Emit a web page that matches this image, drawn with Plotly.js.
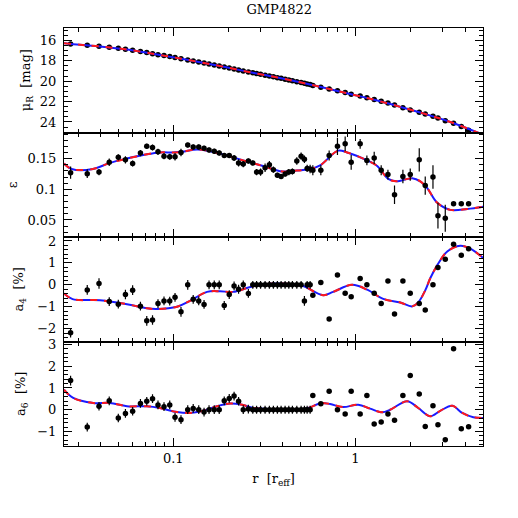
<!DOCTYPE html>
<html>
<head>
<meta charset="utf-8">
<script src="https://cdn.plot.ly/plotly-3.0.1.min.js"></script>
<style>html,body{margin:0;padding:0;background:#fff;}#chart{width:518px;height:518px;}</style>
</head>
<body>
<div id="chart"></div>
<script>
// ---- data points (radius in r_eff) ----
const r = [0.0273,0.0337,0.0391,0.0445,0.0499,0.0546,0.0598,0.0660,0.0715,0.0769,
  0.0824,0.0889,0.0956,0.1022,0.1102,0.1200,0.1286,0.1379,0.1475,0.1571,
  0.1678,0.1787,0.1904,0.2028,0.2156,0.2282,0.2421,0.2583,0.2731,0.2865,
  0.3013,0.3190,0.3368,0.3543,0.3727,0.3906,0.4109,0.4305,0.4506,0.4764,
  0.5030,0.5245,0.5429,0.5637,0.5833,0.6454,0.7170,0.7963,0.8778,0.9471,
  1.061,1.155,1.267,1.384,1.507,1.638,1.821,1.998,2.239,2.415,
  2.663,2.836,3.111,3.455,3.809,4.178];
const mu = [16.36,16.49,16.59,16.69,16.79,16.88,16.98,17.11,17.21,17.31,
  17.41,17.50,17.60,17.70,17.80,17.93,18.03,18.13,18.22,18.32,
  18.42,18.52,18.61,18.71,18.81,18.91,19.00,19.10,19.17,19.25,
  19.33,19.42,19.50,19.58,19.66,19.73,19.82,19.89,19.96,20.05,
  20.14,20.21,20.27,20.34,20.42,20.60,20.77,20.94,21.12,21.28,
  21.46,21.63,21.80,21.97,22.15,22.35,22.60,22.82,23.05,23.22,
  23.45,23.62,23.87,24.13,24.45,24.80];
const eps = [0.127,0.1255,0.128,0.144,0.152,0.148,0.142,0.159,0.170,0.168,
  0.161,0.154,0.153,0.153,0.160,0.172,0.169,0.169,0.167,0.164,
  0.162,0.159,0.155,0.155,0.151,0.143,0.141,0.146,0.143,0.128,
  0.128,0.135,0.140,0.132,0.123,0.121,0.125,0.128,0.129,0.146,
  0.154,0.149,0.134,0.133,0.131,0.131,0.155,0.170,0.174,0.144,
  0.174,0.147,0.151,0.131,0.124,0.091,0.121,0.124,0.148,0.106,
  0.120,0.057,0.053,0.0765,0.0765,0.0765];
const epsErr = [0.010,0.007,0.005,0.006,0.005,0.006,0.005,0.005,0.004,0.005,
  0.005,0.005,0.005,0.006,0.006,0.004,0.004,0.004,0.004,0.004,
  0.004,0.004,0.004,0.004,0.005,0.006,0.005,0.004,0.004,0.005,
  0.006,0.007,0.006,0.005,0.004,0.004,0.004,0.005,0.005,0.006,
  0.006,0.006,0.006,0.007,0.008,0.008,0.008,0.014,0.012,0.012,
  0.008,0.008,0.010,0.008,0.008,0.015,0.011,0.010,0.019,0.015,
  0.019,0.021,0.022,0,0,0];
const a4 = [-2.18,-0.23,0.06,-0.76,-0.88,-0.44,-0.24,-0.97,-1.64,-1.60,
  -0.85,-0.73,-0.74,-0.57,-1.23,0,-0.66,-0.73,-0.89,0,
  0,0,-0.94,-0.44,-0.05,-0.20,0,-0.39,0,0,
  0,0,0,0,0,0,0,0,0,0,
  0,-0.73,0,0,-0.47,0.11,-1.56,0.45,-0.38,-0.54,
  0.29,0,-0.38,-0.85,0.18,-1.33,0.18,-0.38,-0.85,-1.14,
  0,0.79,1.17,1.85,1.35,1.65];
const a4Err = [0.22,0.22,0.24,0.2,0.2,0.22,0.22,0.2,0.22,0.22,
  0.2,0.2,0.2,0.2,0.22,0.22,0.2,0.2,0.2,0.2,
  0.2,0.2,0.2,0.2,0.2,0.2,0.2,0.2,0.18,0.18,
  0.18,0.18,0.18,0.18,0.18,0.18,0.18,0.18,0.18,0.18,
  0.18,0.22,0.18,0.18,0,0,0,0,0,0,
  0,0,0,0,0,0,0,0,0,0,
  0,0,0,0,0,0];
const a6 = [1.34,-0.80,0.16,0.41,-0.38,-0.17,-0.07,0.29,0.39,0.51,
  0.22,0.14,0.22,-0.35,-0.46,0,0.06,0,-0.11,0,
  0,0,0.41,0.52,0.63,0.39,0,0.03,0,0,
  0,0,0,0,0,0,0,0,0,0,
  0,0,0,0,0.66,0.28,0.85,0,-0.20,0.85,
  -0.20,0.66,-0.66,-0.57,-0.20,-0.49,0.66,1.58,0.72,-0.77,
  0.18,-0.69,-1.38,2.81,-0.88,-0.78];
const a6Err = [0.22,0.2,0.2,0.2,0.2,0.2,0.2,0.2,0.2,0.2,
  0.2,0.2,0.2,0.2,0.2,0.2,0.2,0.2,0.2,0.2,
  0.2,0.2,0.2,0.2,0.2,0.2,0.2,0.2,0.18,0.18,
  0.18,0.18,0.18,0.18,0.18,0.18,0.18,0.18,0.18,0.18,
  0.18,0.18,0.18,0.18,0,0,0,0,0,0,
  0,0,0,0,0,0,0,0,0,0,
  0,0,0,0,0,0];

// ---- model curves ----
const muModelR = [0.0251,0.0307,0.0396,0.0543,0.0745,0.1023,0.1402,0.1923,0.2638,0.3621,0.4968,0.6818,0.9352,1.283,1.761,2.415,3.313,5.03];
const muModel = [16.28,16.44,16.60,16.88,17.27,17.70,18.15,18.62,19.13,19.60,20.12,20.68,21.26,21.85,22.52,23.22,24.00,25.25];
const epsModelR = [0.0251,0.02766,0.03621,0.0449,0.05566,0.07168,0.08451,0.09963,0.1116,0.135,0.159,0.1972,0.2415,0.3111,0.3957,0.4546,0.5637,0.6397,0.8035,0.9003,1.16,1.316,1.512,1.674,2.049,2.267,2.477,2.812,3.313,4.109,5.03];
const epsModel = [0.142,0.133,0.133,0.143,0.150,0.157,0.160,0.160,0.161,0.165,0.162,0.155,0.147,0.138,0.129,0.130,0.133,0.139,0.163,0.160,0.147,0.138,0.117,0.113,0.118,0.113,0.102,0.078,0.0665,0.068,0.0717];
const a4ModelR = [0.0251,0.02801,0.03957,0.05566,0.07168,0.08135,0.1048,0.1235,0.1532,0.1805,0.2128,0.2742,0.353,0.4546,0.5161,0.6646,0.7541,0.9591,1.16,1.42,1.761,2.049,2.211,2.415,2.573,2.812,3.19,3.761,4.268,5.03];
const a4Model = [-0.39,-0.65,-0.70,-0.88,-1.07,-1.10,-1.00,-0.73,-0.32,-0.29,-0.32,-0.06,0.06,0.03,-0.05,-0.47,-0.32,0.0,-0.22,-0.64,-0.80,-0.98,-0.80,-0.25,0.30,0.90,1.52,1.78,1.65,1.22];
const a6ModelR = [0.0251,0.02822,0.03632,0.0449,0.05566,0.07168,0.08451,0.1048,0.1235,0.1456,0.1738,0.2049,0.2384,0.2742,0.353,0.4968,0.5637,0.6479,0.7261,0.8559,1.035,1.204,1.402,1.551,1.923,2.211,2.573,2.92,3.399,3.857,4.434,5.03];
const a6Model = [0.92,0.54,0.31,0.31,0.16,0.16,0.08,-0.11,-0.15,-0.05,0.16,0.29,0.23,0.08,0.02,0.0,0.11,0.31,0.26,0.12,0.23,0.05,-0.12,0.0,0.39,0.08,-0.30,-0.05,0.18,-0.15,-0.35,-0.38];

// ---- axis ticks ----
const xMajor = [0.1, 1];
const xMajorText = ['0.1', '1'];
const xMinor = [0.03,0.04,0.05,0.06,0.07,0.08,0.09,0.2,0.3,0.4,0.5,0.6,0.7,0.8,0.9,2,3,4,5];

const FONT = 'DejaVu Serif, Liberation Serif, serif';
const BLUE = '#1a1aff', RED = '#ff1a1a';

function pts(y, err, xa, ya) {
  const t = {x: r, y: y, xaxis: xa, yaxis: ya, type: 'scatter', mode: 'markers',
    marker: {color: '#000', size: 5.5}, showlegend: false, hoverinfo: 'skip'};
  if (err) t.error_y = {type: 'data', array: err, visible: true, color: '#000', thickness: 1.2, width: 0};
  return t;
}
function model(xr, y, xa, ya) {
  return [
    {x: xr, y: y, xaxis: xa, yaxis: ya, type: 'scatter', mode: 'lines',
     line: {color: BLUE, width: 2, shape: 'spline', smoothing: 1}, showlegend: false, hoverinfo: 'skip'},
    {x: xr, y: y, xaxis: xa, yaxis: ya, type: 'scatter', mode: 'lines',
     line: {color: RED, width: 2, dash: '7px,7px', shape: 'spline', smoothing: 1}, showlegend: false, hoverinfo: 'skip'}
  ];
}

const data = [
  pts(mu, null, 'x', 'y'), ...model(muModelR, muModel, 'x', 'y'),
  ...model(epsModelR, epsModel, 'x2', 'y2'), pts(eps, epsErr, 'x2', 'y2'),
  ...model(a4ModelR, a4Model, 'x3', 'y3'), pts(a4, a4Err, 'x3', 'y3'),
  ...model(a6ModelR, a6Model, 'x4', 'y4'), pts(a6, a6Err, 'x4', 'y4')
];

function xax(anchor, labels) {
  return {type: 'log', range: [-1.6, 0.70], anchor: anchor,
    tickmode: 'array', tickvals: xMajor, ticktext: xMajorText, showticklabels: labels,
    ticks: 'inside', ticklen: 8, tickwidth: 1, tickcolor: '#000',
    minor: {tickmode: 'array', tickvals: xMinor, ticks: 'inside', ticklen: 4, tickwidth: 1, tickcolor: '#000', showgrid: false},
    showline: true, linecolor: '#000', linewidth: 1, mirror: 'ticks',
    showgrid: false, zeroline: false, tickfont: {family: FONT, size: 13, color: '#000'}};
}
function yax(range, tickvals, ticktext, minorDtick, title, dom, standoff) {
  return {range: range, domain: dom,
    tickmode: 'array', tickvals: tickvals, ticktext: ticktext,
    ticks: 'inside', ticklen: 8, tickwidth: 1, tickcolor: '#000', ticklabelstandoff: 4,
    minor: {dtick: minorDtick, tick0: 0, ticks: 'inside', ticklen: 4, tickwidth: 1, tickcolor: '#000', showgrid: false},
    showline: true, linecolor: '#000', linewidth: 1, mirror: 'ticks',
    showgrid: false, zeroline: false, tickfont: {family: FONT, size: 13, color: '#000'},
    title: {text: title, font: {family: FONT, size: 13, color: '#000'}, standoff: standoff}};
}

const x4 = xax('y4', true);
x4.title = {text: 'r  [r<sub>eff</sub>]', font: {family: FONT, size: 13, color: '#000'}, standoff: 9};

const y1 = yax([25.03, 14.80], [16,18,20,22,24], ['16','18','20','22','24'], 0.5, 'μ<sub>R</sub>  [mag]', [0.75, 1], 6);
const y2 = yax([0.0223, 0.1925], [0.05,0.1,0.15], ['0.05','0.1','0.15'], 0.01, 'ε', [0.5, 0.75], 6);
const y3 = yax([-2.58, 2.18], [-2,-1,0,1,2], ['−2','−1','0','1','2'], 0.2, 'a<sub>4</sub>  [%]', [0.25, 0.5], 10);
const y4 = yax([-1.67, 3.14], [-1,0,1,2,3], ['−1','0','1','2','3'], 0.2, 'a<sub>6</sub>  [%]', [0, 0.25], 8);
y1.anchor = 'x'; y2.anchor = 'x2'; y3.anchor = 'x3'; y4.anchor = 'x4';

const layout = {
  width: 518, height: 518,
  margin: {l: 64, r: 35, t: 28, b: 72},
  paper_bgcolor: '#fff', plot_bgcolor: '#fff',
  showlegend: false,
  title: {text: 'GMP4822', font: {family: FONT, size: 13, color: '#000'},
    xref: 'container', x: 0.539, xanchor: 'center', yref: 'container', y: 0.982, yanchor: 'middle'},
  xaxis: xax('y', false), xaxis2: xax('y2', false), xaxis3: xax('y3', false), xaxis4: x4,
  yaxis: y1, yaxis2: y2, yaxis3: y3, yaxis4: y4
};

Plotly.newPlot('chart', data, layout, {staticPlot: true, displayModeBar: false});
</script>
</body>
</html>
